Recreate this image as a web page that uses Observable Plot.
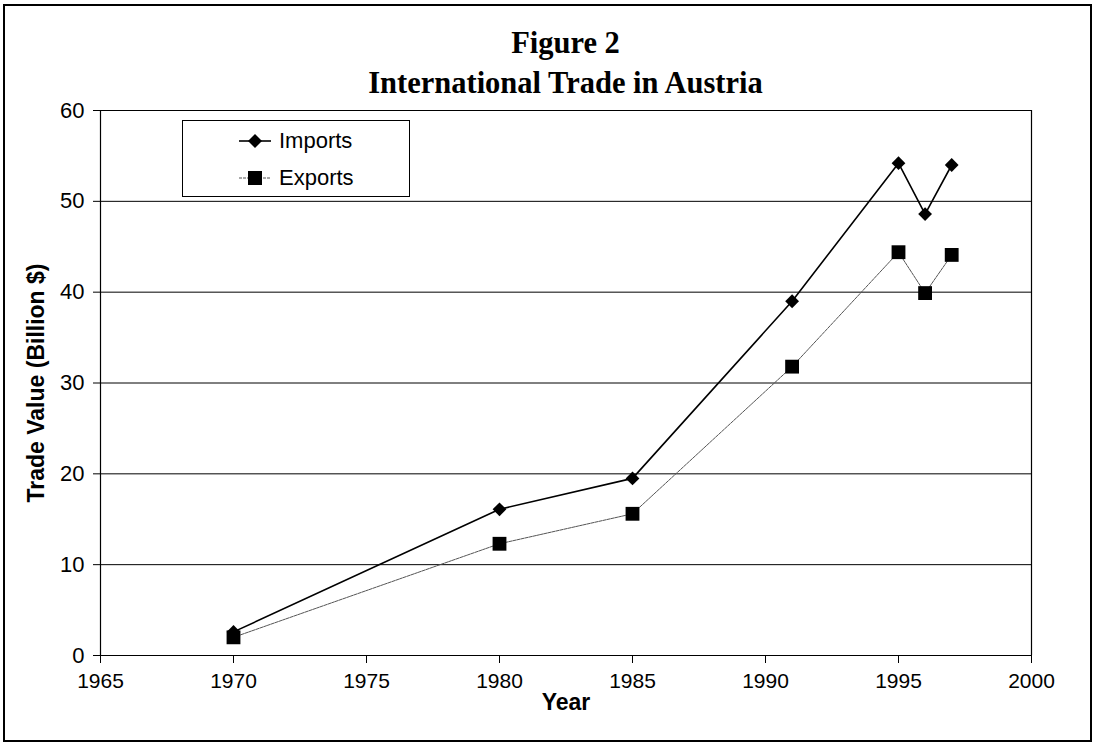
<!DOCTYPE html>
<html>
<head>
<meta charset="utf-8">
<script src="https://cdn.jsdelivr.net/npm/d3@7"></script>
<script src="https://cdn.jsdelivr.net/npm/@observablehq/plot@0.6"></script>
<style>
  body { margin: 0; background: #fff; }
  #wrap { position: relative; width: 1095px; height: 745px; overflow: hidden; background: #fff; }
  #frame { position: absolute; left: 3px; top: 4px; width: 1089px; height: 738px; border: 2px solid #000; box-sizing: border-box; pointer-events: none; }
  #title { position: absolute; left: 100px; width: 931px; top: 23px; text-align: center; font-family: "Liberation Serif", "Times New Roman", serif; font-weight: bold; font-size: 30.5px; line-height: 40px; color: #000; }
  #legend { position: absolute; left: 182px; top: 120px; width: 228px; height: 77px; border: 1.5px solid #000; box-sizing: border-box; background: #fff; font-family: "Liberation Sans", Arial, sans-serif; font-size: 22px; }
  #legend .row { position: absolute; left: 56px; height: 24px; display: flex; align-items: center; }
  #legend svg { margin-right: 8px; }
  #chart svg [aria-label="y-axis label"] text, #chart svg [aria-label="x-axis label"] text { font-weight: bold; font-size: 23px; }
</style>
</head>
<body>
<div id="wrap">
  <div id="chart"></div>
  <div id="title"></div>
  <div id="legend"></div>
  <div id="frame"></div>
</div>
<script>
const titleLines = ["Figure 2", "International Trade in Austria"];
const years = [1970, 1980, 1985, 1991, 1995, 1996, 1997];
const imports = [2.6, 16.1, 19.5, 39.0, 54.2, 48.6, 54.0];
const exportsV = [2.0, 12.3, 15.6, 31.8, 44.4, 39.9, 44.1];
const xTicks = [1965, 1970, 1975, 1980, 1985, 1990, 1995, 2000];
const yTicks = [0, 10, 20, 30, 40, 50, 60];
const seriesNames = ["Imports", "Exports"];

const importsData = years.map((y, i) => ({year: y, value: imports[i]}));
const exportsData = years.map((y, i) => ({year: y, value: exportsV[i]}));

document.getElementById("title").innerHTML = titleLines.map(t => `<div>${t}</div>`).join("");

const chart = Plot.plot({
  width: 1095,
  height: 745,
  marginLeft: 100,
  marginRight: 64,
  marginTop: 110,
  marginBottom: 90,
  style: {fontFamily: "'Liberation Sans', Arial, sans-serif", fontSize: "20px", color: "#000", background: "transparent"},
  x: {domain: [1965, 2000]},
  y: {domain: [0, 60]},
  marks: [
    Plot.ruleY(yTicks, {stroke: "#000", strokeWidth: 1}),
    Plot.ruleX([1965, 2000], {stroke: "#000", strokeWidth: 1.2}),
    Plot.axisY({ticks: yTicks, tickSize: 7, tickPadding: 9, fontSize: 22, label: "Trade Value (Billion $)", labelAnchor: "center", labelArrow: "none", labelOffset: 73}),
    Plot.axisX({ticks: xTicks, tickSize: 8, tickPadding: 10, fontSize: 21, tickFormat: d => String(d), label: "Year", labelAnchor: "center", labelArrow: "none", labelOffset: 54}),
    Plot.line(exportsData, {x: "year", y: "value", stroke: "#555", strokeWidth: 1, strokeDasharray: "3,1"}),
    Plot.line(importsData, {x: "year", y: "value", stroke: "#000", strokeWidth: 1.6}),
    Plot.dot(exportsData, {x: "year", y: "value", symbol: "square", r: 7.8, fill: "#000", stroke: "none"}),
    Plot.dot(importsData, {x: "year", y: "value", symbol: "diamond2", r: 6.2, fill: "#000", stroke: "none"})
  ]
});
document.getElementById("chart").appendChild(chart);

// Legend
const legend = document.getElementById("legend");
seriesNames.forEach((name, i) => {
  const row = document.createElement("div");
  row.className = "row";
  row.style.top = (i === 0 ? 8 : 45) + "px";
  const marker = i === 0
    ? `<path d="M16,4 L23,11 L16,18 L9,11 Z" fill="#000"/>`
    : `<rect x="9" y="4" width="14" height="14" fill="#000"/>`;
  const line = i === 0
    ? `<line x1="0" y1="11" x2="32" y2="11" stroke="#000" stroke-width="1.6"/>`
    : `<line x1="0" y1="11" x2="32" y2="11" stroke="#555" stroke-width="1" stroke-dasharray="3,1"/>`;
  row.innerHTML = `<svg width="32" height="22">${line}${marker}</svg><span>${name}</span>`;
  legend.appendChild(row);
});
</script>
</body>
</html>
